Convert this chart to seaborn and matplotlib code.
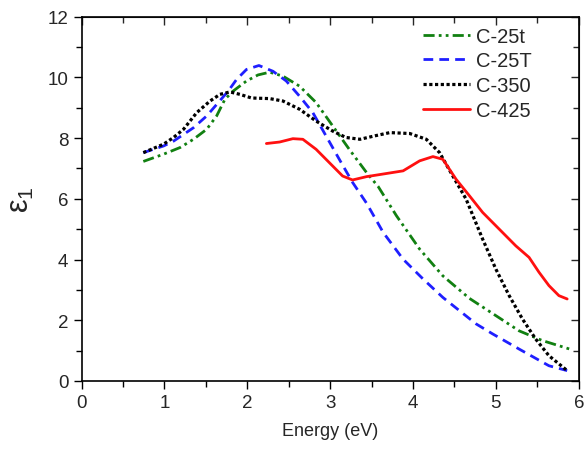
import matplotlib
matplotlib.use("Agg")
import matplotlib.pyplot as plt
import seaborn as sns
import pandas as pd
from matplotlib.ticker import MultipleLocator

# Data
x_25t = [0.745, 0.99, 1.19, 1.35, 1.51, 1.63, 1.73, 1.83, 1.99, 2.13, 2.27, 2.43, 2.63, 2.83,
         3.03, 3.23, 3.44, 3.58, 3.80, 4.08, 4.36, 4.68, 5.0, 5.28, 5.56, 5.89]
y_25t = [7.23, 7.47, 7.69, 7.96, 8.29, 8.73, 9.28, 9.55, 9.88, 10.08, 10.17, 10.04, 9.71, 9.17,
         8.4, 7.63, 6.86, 6.40, 5.44, 4.34, 3.46, 2.72, 2.15, 1.65, 1.33, 1.05]

x_25T = [0.745, 0.99, 1.11, 1.35, 1.51, 1.65, 1.77, 1.87, 1.99, 2.14, 2.31, 2.47, 2.63, 2.79,
         2.95, 3.11, 3.27, 3.44, 3.64, 3.88, 4.12, 4.36, 4.76, 4.96, 5.28, 5.64, 5.86]
y_25T = [7.52, 7.74, 7.9, 8.34, 8.73, 9.17, 9.55, 9.93, 10.26, 10.39, 10.2, 9.88, 9.38, 8.84,
         8.07, 7.3, 6.54, 5.85, 4.89, 4.01, 3.36, 2.75, 1.88, 1.55, 1.05, 0.5, 0.34]

x_350 = [0.745, 0.99, 1.11, 1.23, 1.39, 1.55, 1.67, 1.79, 1.91, 2.05, 2.27, 2.43, 2.63, 2.83,
         3.03, 3.19, 3.36, 3.55, 3.72, 3.96, 4.16, 4.32, 4.48, 4.64, 4.84, 5.0, 5.16, 5.32,
         5.48, 5.64, 5.86]
y_350 = [7.52, 7.8, 8.02, 8.29, 8.84, 9.22, 9.44, 9.52, 9.44, 9.32, 9.3, 9.22, 8.95, 8.56,
         8.23, 8.02, 7.96, 8.08, 8.18, 8.15, 7.96, 7.52, 6.75, 5.99, 4.67, 3.68, 2.81, 2.04,
         1.38, 0.83, 0.34]

x_425 = [2.23, 2.39, 2.55, 2.67, 2.83, 2.99, 3.15, 3.27, 3.44, 3.58, 3.88, 4.08, 4.24, 4.36,
         4.52, 4.68, 4.84, 5.04, 5.24, 5.4, 5.52, 5.64, 5.76, 5.86]
y_425 = [7.82, 7.87, 7.98, 7.96, 7.63, 7.19, 6.75, 6.62, 6.73, 6.79, 6.92, 7.25, 7.39, 7.3,
         6.64, 6.1, 5.55, 5.0, 4.45, 4.07, 3.58, 3.14, 2.81, 2.7]

labels = ["C-25t", "C-25T", "C-350", "C-425"]
colors = ["#118011", "#1f1fff", "#000000", "#ff1010"]
dashes = [(4, 1.5, 1, 1.5, 1, 1.5), (3.5, 2.2), (1, 0.8), None]

sns.set_style("white")
plt.rcParams["font.family"] = ["Liberation Sans", "DejaVu Sans"]
plt.rcParams["mathtext.fontset"] = "custom"
plt.rcParams["mathtext.rm"] = "Liberation Sans"

fig = plt.figure(figsize=(5.87, 4.52), dpi=100)
ax = fig.add_axes([0.139, 0.155, 0.847, 0.806])

series = [(x_25t, y_25t), (x_25T, y_25T), (x_350, y_350), (x_425, y_425)]
for (xs, ys), lab, col, ds in zip(series, labels, colors, dashes):
    df = pd.DataFrame({"x": xs, "y": ys})
    sns.lineplot(data=df, x="x", y="y", ax=ax, color=col, label=lab, linewidth=2.0)
    line = ax.lines[-1]
    if ds is not None:
        line.set_dashes(ds)
        if ds == (1, 0.8):
            line.set_dash_capstyle("butt")
            line.set_linewidth(2.3)

ax.set_xlim(0, 6)
ax.set_ylim(0, 12)
ax.xaxis.set_major_locator(MultipleLocator(1))
ax.xaxis.set_minor_locator(MultipleLocator(0.5))
ax.yaxis.set_major_locator(MultipleLocator(2))
ax.yaxis.set_minor_locator(MultipleLocator(1))
ax.tick_params(which="both", direction="out", top=False, right=False,
               bottom=True, left=True, labelsize=13.5, color="black", width=1.0)
ax.tick_params(which="major", length=6)
ax.tick_params(which="minor", length=4)

for sp in ax.spines.values():
    sp.set_color("black")
    sp.set_linewidth(1.2)

top = ax.secondary_xaxis("top")
top.xaxis.set_major_locator(MultipleLocator(1))
top.xaxis.set_minor_locator(MultipleLocator(0.5))
top.tick_params(which="both", direction="in", labeltop=False, width=1.0)
top.tick_params(which="major", length=6)
top.tick_params(which="minor", length=4)
right = ax.secondary_yaxis("right")
right.yaxis.set_major_locator(MultipleLocator(2))
right.yaxis.set_minor_locator(MultipleLocator(1))
right.tick_params(which="both", direction="in", labelright=False, width=1.0)
right.tick_params(which="major", length=6)
right.tick_params(which="minor", length=4)

ax.set_xlabel("Energy (eV)", fontsize=13, labelpad=8)
ax.set_ylabel(r"$\mathregular{\varepsilon_1}$", fontsize=22, labelpad=8)

leg = ax.legend(loc="upper right", frameon=False, fontsize=14.5, handlelength=2.3,
                handletextpad=0.3, labelspacing=0.28, borderaxespad=0.1,
                bbox_to_anchor=(0.925, 1.0))

fig.savefig("out.png", dpi=100)
